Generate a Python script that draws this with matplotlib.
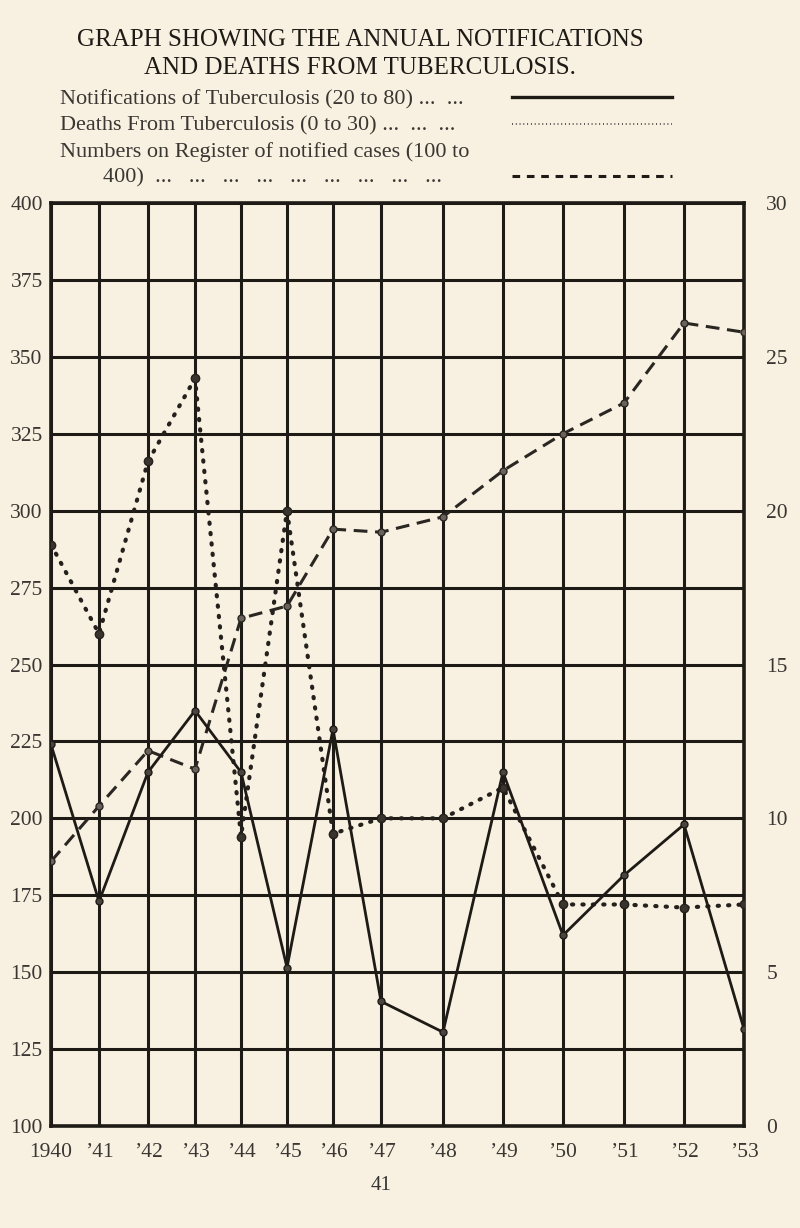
import numpy as np
import matplotlib.pyplot as plt
from matplotlib.lines import Line2D

# values
years = [1940, 1941, 1942, 1943, 1944, 1945, 1946, 1947, 1948, 1949, 1950, 1951, 1952, 1953]
year_labels = ["1940", "\u201941", "\u201942", "\u201943", "\u201944", "\u201945", "\u201946",
               "\u201947", "\u201948", "\u201949", "\u201950", "\u201951", "\u201952", "\u201953"]
notifications = [44.8, 34.6, 43.0, 47.0, 43.0, 30.3, 45.8, 28.1, 26.1, 43.0, 32.4, 36.3, 39.6, 26.3]
deaths = [18.9, 16.0, 21.6, 24.3, 9.4, 20.0, 9.5, 10.0, 10.0, 11.0, 7.2, 7.2, 7.1, 7.2]
register = [186, 204, 222, 216, 265, 269, 294, 293, 298, 313, 325, 335, 361, 358]
left_ticks = [100, 125, 150, 175, 200, 225, 250, 275, 300, 325, 350, 375, 400]
right_ticks = [0, 5, 10, 15, 20, 25, 30]

# the hand-ruled grid is not evenly spaced along the years
grid_px = [51, 99, 148, 195, 241, 287, 333, 381, 443, 503, 563, 624, 684, 744]

def fwd(x):
    return np.interp(x, years, grid_px)

def inv(p):
    return np.interp(p, grid_px, years)

paper = "#f8f0e1"
ink = "#1e1a16"
serif = ["Liberation Serif", "DejaVu Serif"]
plt.rcParams["font.family"] = serif

fig = plt.figure(figsize=(8, 12.28), dpi=100, facecolor=paper)
ax = fig.add_axes([51 / 800, 102 / 1228, 693 / 800, 923 / 1228])
ax.set_facecolor(paper)
ax.set_xscale("function", functions=(fwd, inv))
ax.set_xlim(1940, 1953)
ax.set_ylim(100, 400)
ax.set_xticks(years)
ax.set_xticklabels(year_labels, fontsize=15.5, color="#3a3632")
ax.set_yticks(left_ticks)
ax.set_yticklabels([str(t) for t in left_ticks], fontsize=15.5, color="#3a3632")
ax.tick_params(length=0, pad=6)
ax.tick_params(axis="x", pad=12)
ax.grid(True, color=ink, lw=2.2)
for s in ax.spines.values():
    s.set_color(ink)
    s.set_linewidth(2.6)

# register of notified cases, left scale
ax.plot(years, register, color="#2a2622", lw=2.2, ls=(0, (4.5, 2.5)),
        marker="o", ms=5, mfc="#6a625a", mec="#2a2622", zorder=4)

# deaths, right scale
axr = ax.twinx()
axr.set_ylim(0, 30)
axr.set_yticks(right_ticks)
axr.set_yticklabels([str(t) for t in right_ticks], fontsize=15.5, color="#3a3632")
axr.tick_params(length=0, pad=16)
for s in axr.spines.values():
    s.set_visible(False)
axr.plot(years, deaths, color="#24201c", lw=3.0, ls=(0, (0.3, 2.2)),
         dash_capstyle="round", marker="o", ms=6, mfc="#3a342e", mec="#24201c", zorder=4)

# notifications, own 20-80 scale on the same grid
axn = ax.twinx()
axn.set_ylim(20, 80)
axn.set_yticks([])
for s in axn.spines.values():
    s.set_visible(False)
axn.plot(years, notifications, color=ink, lw=2.0, marker="o", ms=5,
         mfc="#4a443e", mec=ink, zorder=5)

# title and key
fig.text(0.45, 1 - 40 / 1228, "GRAPH SHOWING THE ANNUAL NOTIFICATIONS",
         ha="center", va="center", fontsize=18, color=ink)
fig.text(0.45, 1 - 68 / 1228, "AND DEATHS FROM TUBERCULOSIS.",
         ha="center", va="center", fontsize=18, color=ink)

key = [
    (100, "Notifications of Tuberculosis (20 to 80) ...  ..."),
    (126, "Deaths From Tuberculosis (0 to 30) ...  ...  ..."),
    (152, "Numbers on Register of notified cases (100 to"),
]
for y, t in key:
    fig.text(60 / 800, 1 - y / 1228, t, ha="left", va="center", fontsize=16, color="#3a3632")
fig.text(103 / 800, 1 - 178 / 1228, "400)  ...   ...   ...   ...   ...   ...   ...   ...   ...",
         ha="left", va="center", fontsize=16, color="#3a3632")

fig.add_artist(Line2D([512 / 800, 672 / 800], [1 - 97 / 1228] * 2, color=ink, lw=2.4))
fig.add_artist(Line2D([512 / 800, 672 / 800], [1 - 124 / 1228] * 2, color="#3a3632",
                      lw=1.3, ls=(0, (0.5, 1.6))))
fig.add_artist(Line2D([512 / 800, 672 / 800], [1 - 176 / 1228] * 2, color=ink,
                      lw=2.2, ls=(0, (2.5, 2.2))))

fig.text(381 / 800, 1 - 1185 / 1228, "41", ha="center", va="center", fontsize=15, color="#333")

fig.savefig("out.png", dpi=100, facecolor=paper)
